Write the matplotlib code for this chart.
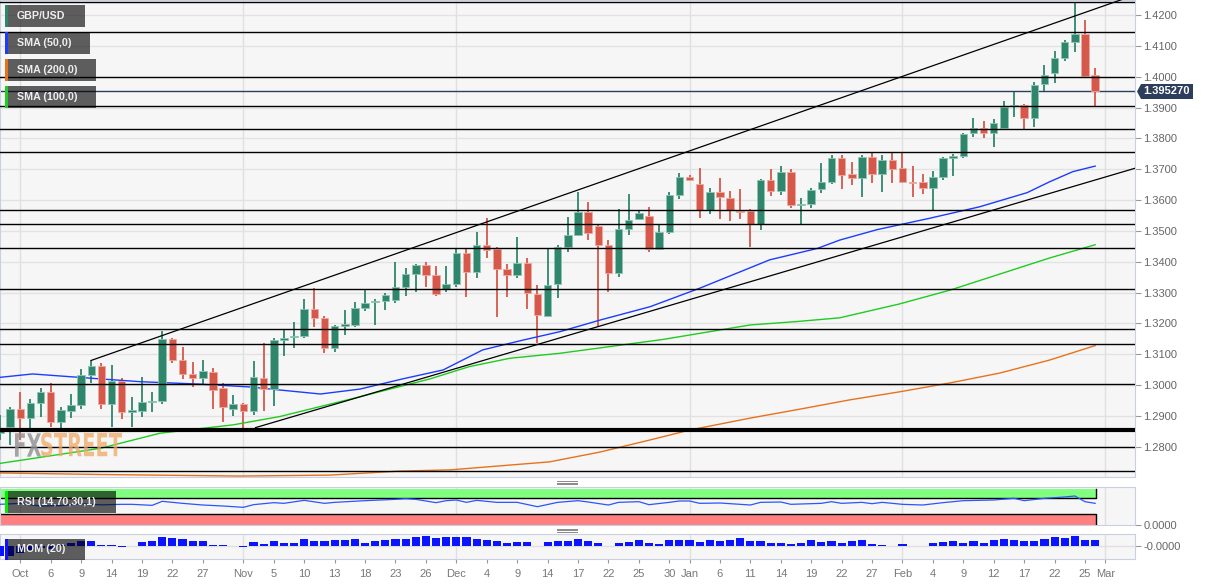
import numpy as np
import pandas as pd
import matplotlib
matplotlib.use("Agg")
from matplotlib import pyplot as plt
from matplotlib.patches import Rectangle, Polygon, PathPatch
from matplotlib.lines import Line2D
from matplotlib.textpath import TextPath
from matplotlib.font_manager import FontProperties
from matplotlib.transforms import Affine2D

plt.rcParams["font.family"] = ["Liberation Sans", "DejaVu Sans"]

W, H = 1212, 585

# GBP/USD daily candles, weekdays 29 Sep 2020 .. 26 Feb 2021
dates = pd.bdate_range("2020-09-29", "2021-02-26")
opens = [1.2845, 1.2865, 1.2921, 1.2892, 1.2943, 1.2978, 1.2879, 1.2917, 1.2935, 1.3033,
         1.3063, 1.2939, 1.3013, 1.2914, 1.2917, 1.2946, 1.2949, 1.3148, 1.3081, 1.3036,
         1.3024, 1.3043, 1.2990, 1.2922, 1.2939, 1.2917, 1.3024, 1.2987, 1.3146, 1.3157,
         1.3159, 1.3247, 1.3217, 1.3121, 1.3192, 1.3195, 1.3251, 1.3268, 1.3274, 1.3275,
         1.3317, 1.3360, 1.3390, 1.3356, 1.3312, 1.3328, 1.3427, 1.3367, 1.3454, 1.3441,
         1.3377, 1.3356, 1.3397, 1.3295, 1.3225, 1.3327, 1.3449, 1.3487, 1.3560, 1.3516,
         1.3453, 1.3362, 1.3506, 1.3538, 1.3548, 1.3440, 1.3497, 1.3616, 1.3674, 1.3652,
         1.3568, 1.3625, 1.3608, 1.3565, 1.3565, 1.3522, 1.3665, 1.3630, 1.3692, 1.3583,
         1.3587, 1.3635, 1.3659, 1.3735, 1.3684, 1.3670, 1.3739, 1.3683, 1.3731, 1.3703,
         1.3659, 1.3658, 1.3638, 1.3676, 1.3737, 1.3743, 1.3816, 1.3833, 1.3816, 1.3835,
         1.3905, 1.3908, 1.3865, 1.3975, 1.4013, 1.4060, 1.4113, 1.4137, 1.4005]
highs = [1.2903, 1.2929, 1.2977, 1.2955, 1.2990, 1.3006, 1.2928, 1.2970, 1.3051, 1.3080,
         1.3071, 1.3065, 1.3022, 1.2960, 1.3025, 1.2979, 1.3176, 1.3152, 1.3122, 1.3076,
         1.3081, 1.3054, 1.3006, 1.2968, 1.2941, 1.3079, 1.3137, 1.3152, 1.3179, 1.3206,
         1.3279, 1.3314, 1.3224, 1.3195, 1.3243, 1.3270, 1.3311, 1.3278, 1.3298, 1.3398,
         1.3379, 1.3393, 1.3399, 1.3386, 1.3386, 1.3443, 1.3440, 1.3497, 1.3541, 1.3448,
         1.3392, 1.3479, 1.3411, 1.3325, 1.3445, 1.3454, 1.3546, 1.3625, 1.3595, 1.3522,
         1.3470, 1.3570, 1.3620, 1.3565, 1.3578, 1.3519, 1.3627, 1.3687, 1.3681, 1.3703,
         1.3640, 1.3670, 1.3630, 1.3635, 1.3571, 1.3667, 1.3700, 1.3710, 1.3700, 1.3606,
         1.3638, 1.3719, 1.3746, 1.3746, 1.3722, 1.3746, 1.3757, 1.3746, 1.3752, 1.3757,
         1.3710, 1.3684, 1.3695, 1.3739, 1.3748, 1.3818, 1.3865, 1.3857, 1.3862, 1.3921,
         1.3951, 1.3911, 1.3984, 1.4037, 1.4084, 1.4119, 1.4240, 1.4184, 1.4029]
lows = [1.2822, 1.2806, 1.2822, 1.2860, 1.2898, 1.2865, 1.2849, 1.2892, 1.2921, 1.3006,
        1.2921, 1.2865, 1.2889, 1.2863, 1.2896, 1.2914, 1.2939, 1.3071, 1.3019, 1.2993,
        1.3000, 1.2921, 1.2881, 1.2900, 1.2860, 1.2903, 1.2917, 1.2932, 1.3094, 1.3119,
        1.3152, 1.3189, 1.3105, 1.3108, 1.3162, 1.3187, 1.3241, 1.3195, 1.3243, 1.3265,
        1.3290, 1.3303, 1.3319, 1.3289, 1.3303, 1.3317, 1.3287, 1.3346, 1.3411, 1.3222,
        1.3287, 1.3346, 1.3246, 1.3135, 1.3221, 1.3281, 1.3432, 1.3484, 1.3470, 1.3187,
        1.3303, 1.3351, 1.3487, 1.3535, 1.3431, 1.3438, 1.3490, 1.3602, 1.3663, 1.3541,
        1.3555, 1.3538, 1.3532, 1.3538, 1.3449, 1.3503, 1.3613, 1.3616, 1.3573, 1.3519,
        1.3575, 1.3622, 1.3651, 1.3635, 1.3649, 1.3609, 1.3656, 1.3627, 1.3656, 1.3655,
        1.3611, 1.3619, 1.3568, 1.3665, 1.3679, 1.3735, 1.3805, 1.3802, 1.3773, 1.3835,
        1.3868, 1.3830, 1.3838, 1.3955, 1.3980, 1.4052, 1.4081, 1.3999, 1.3901]
closes = [1.2861, 1.2921, 1.2892, 1.2943, 1.2979, 1.2879, 1.2919, 1.2935, 1.3033, 1.3063,
          1.2939, 1.3013, 1.2912, 1.2919, 1.2946, 1.2949, 1.3148, 1.3081, 1.3036, 1.3024,
          1.3046, 1.2984, 1.2930, 1.2939, 1.2917, 1.3025, 1.2987, 1.3146, 1.3152, 1.3160,
          1.3247, 1.3217, 1.3121, 1.3193, 1.3197, 1.3251, 1.3267, 1.3273, 1.3292, 1.3317,
          1.3360, 1.3390, 1.3356, 1.3295, 1.3328, 1.3427, 1.3367, 1.3454, 1.3438, 1.3377,
          1.3356, 1.3397, 1.3298, 1.3227, 1.3325, 1.3449, 1.3487, 1.3560, 1.3494, 1.3453,
          1.3362, 1.3505, 1.3535, 1.3559, 1.3440, 1.3495, 1.3616, 1.3674, 1.3665, 1.3568,
          1.3625, 1.3609, 1.3568, 1.3562, 1.3522, 1.3665, 1.3630, 1.3692, 1.3584, 1.3587,
          1.3633, 1.3658, 1.3735, 1.3681, 1.3670, 1.3739, 1.3683, 1.3731, 1.3700, 1.3659,
          1.3656, 1.3638, 1.3676, 1.3737, 1.3743, 1.3814, 1.3833, 1.3816, 1.3851, 1.3903,
          1.3908, 1.3865, 1.3973, 1.4004, 1.4060, 1.4113, 1.4137, 1.4002, 1.3953]
last_price = 1.39527

# moving averages (bar position, value)
sma50_at = [0, 3.2, 9.9, 13.8, 19.7, 24.6, 27.6, 31.6, 35.5, 39.7, 43.7, 47.6, 51.6, 55.2,
            59.2, 64.1, 69, 75.9, 80.6, 82.8, 86.5, 91.7, 96.6, 101.3, 103.5, 105.8, 108]
sma50 = [1.3025, 1.3036, 1.3020, 1.3011, 1.3003, 1.2994, 1.2984, 1.2971, 1.2987, 1.3020,
         1.3049, 1.3114, 1.3146, 1.3173, 1.3211, 1.3254, 1.3314, 1.3406, 1.3443, 1.3470,
         1.3504, 1.3541, 1.3578, 1.3624, 1.3659, 1.3692, 1.3710]
sma100_at = [0, 9.9, 15.8, 23, 27.6, 35, 42.4, 46.3, 50.3, 55.2, 65.4, 74, 78.6, 82.8,
             88.7, 93.7, 98.6, 103.5, 108]
sma100 = [1.2746, 1.2795, 1.2844, 1.2871, 1.2898, 1.2958, 1.3020, 1.3060, 1.3087, 1.3103,
          1.3148, 1.3195, 1.3206, 1.3218, 1.3263, 1.3308, 1.3360, 1.3412, 1.3455]
sma200_at = [0, 9.9, 23.7, 32.5, 39.4, 44.4, 49.3, 54.2, 59.2, 64.1, 68, 74, 78.9, 83.8,
             88.7, 93.7, 98.6, 103.5, 108]
sma200 = [1.2715, 1.2710, 1.2705, 1.2708, 1.2721, 1.2725, 1.2738, 1.2751, 1.2783, 1.2822,
          1.2854, 1.2893, 1.2922, 1.2952, 1.2978, 1.3007, 1.3039, 1.3081, 1.3128]

# drawn levels and channel
levels = [1.4241, 1.4144, 1.3998, 1.3904, 1.3830, 1.3755, 1.3567, 1.3521, 1.3443,
          1.3312, 1.3181, 1.3132, 1.3003, 1.2798, 1.2721]
key_level = 1.2853
upper_line = ([9, 111.93], [1.3080, 1.4265])
lower_line = ([25.2, 111.93], [1.2862, 1.3703])

# RSI(14) samples
rsi_at = [0, 2, 4, 6, 8, 10, 12, 13, 15, 16, 18, 20, 22, 24, 25, 27, 28, 30, 32, 33,
          36, 39, 40, 41, 43, 44, 45, 46, 47, 49, 51, 53, 55, 57, 58, 60, 61, 63, 64, 66,
          67, 68, 69, 71, 74, 75, 77, 78, 81, 82, 83, 85, 86, 87, 89, 91, 93, 95, 98, 100,
          101, 103, 105, 106, 107, 108]
rsi = [54.4, 57, 50, 51, 56, 53, 54.4, 54.4, 51.7, 62.3, 57, 52.6, 50, 46.5, 53.5, 58.8,
       57, 64.9, 57, 59.6, 64, 67.5, 69.3, 67.5, 58.8, 64, 65.8, 59.6, 64.9, 59.6, 59.6,
       48.2, 59.6, 64, 60.5, 52.6, 59.6, 61.4, 53.5, 59.6, 63.2, 63.2, 57, 57.9, 52.6,
       59.6, 60.5, 54.4, 57, 61.4, 57, 59.6, 56.1, 59.6, 54.4, 52.6, 58.8, 64, 65.8, 70.2,
       64, 70.2, 73.7, 76.3, 61.4, 57]

# momentum(20), one per candle
mom = [-0.030, -0.030, -0.021, -0.012, -0.006, -0.009, 0.003, 0.008, 0.015, 0.015,
       0.003, 0.002, -0.003, -0.0015, 0.010, 0.015, 0.026, 0.023, 0.019, 0.013,
       0.013, 0.003, 0.002, -0.001, -0.003, 0.010, 0.006, 0.015, 0.008, 0.007,
       0.021, 0.015, 0.015, 0.018, 0.017, 0.021, 0.008, 0.013, 0.018, 0.020,
       0.020, 0.026, 0.028, 0.023, 0.027, 0.026, 0.025, 0.020, 0.018, 0.015,
       0.008, 0.011, 0.011, -0.0015, 0.010, 0.013, 0.014, 0.019, 0.013, 0.009,
       -0.001, 0.009, 0.012, 0.017, 0.007, 0.005, 0.017, 0.016, 0.016, 0.012,
       0.018, 0.015, 0.018, 0.023, 0.014, 0.015, 0.009, 0.009, 0.006, 0.009,
       0.018, 0.010, 0.013, 0.008, 0.015, 0.016, 0.004, 0.003, -0.001, 0.005,
       -0.001, -0.001, 0.007, 0.012, 0.014, 0.009, 0.013, 0.009, 0.017, 0.020,
       0.018, 0.013, 0.015, 0.021, 0.026, 0.024, 0.030, 0.018, 0.017]

tick_dates = ["2020-10-01", "2020-10-06", "2020-10-09", "2020-10-14", "2020-10-19",
              "2020-10-22", "2020-10-27", "2020-11-02", "2020-11-05", "2020-11-10",
              "2020-11-13", "2020-11-18", "2020-11-23", "2020-11-26", "2020-12-01",
              "2020-12-04", "2020-12-09", "2020-12-14", "2020-12-17", "2020-12-22",
              "2020-12-25", "2020-12-30", "2021-01-01", "2021-01-06", "2021-01-11",
              "2021-01-14", "2021-01-19", "2021-01-22", "2021-01-27", "2021-02-01",
              "2021-02-04", "2021-02-09", "2021-02-12", "2021-02-17", "2021-02-22",
              "2021-02-25", "2021-03-01"]
tick_labels = ["Oct", "6", "9", "14", "19", "22", "27", "Nov", "5", "10", "13", "18", "23",
               "26", "Dec", "4", "9", "14", "17", "22", "25", "30", "Jan", "6", "11", "14",
               "19", "22", "27", "Feb", "4", "9", "12", "17", "22", "25", "Mar"]

GREEN, RED = "#2f866c", "#d5584a"
x_lo, x_hi = 0, 111.93

pos = np.arange(len(dates))
tick_pos = [dates.searchsorted(pd.Timestamp(d)) for d in tick_dates]
month_pos = [p for p, t in zip(tick_pos, tick_labels) if not t.isdigit()]


def frac(x0, y0, x1, y1):
    return [x0 / W, 1 - y1 / H, (x1 - x0) / W, (y1 - y0) / H]


fig = plt.figure(figsize=(W / 100, H / 100), dpi=100)
fig.patch.set_facecolor("white")
ax = fig.add_axes(frac(0, 0, 1135, 477))
ax_rsi = fig.add_axes(frac(0, 487, 1135, 525))
ax_mom = fig.add_axes(frac(0, 534, 1135, 559))

for a in (ax, ax_rsi, ax_mom):
    a.set_facecolor("#f6f6f6")
    a.set_xlim(x_lo, x_hi)
    for s in a.spines.values():
        s.set_color("#c9d0e2")
    for m in month_pos:
        a.axvline(m, color="#e0e0e0", lw=1, zorder=0)
    a.yaxis.tick_right()
    a.tick_params(axis="y", length=4, color="#999999", labelcolor="#666666",
                  labelsize=8, pad=2)

# main price panel
ax.set_ylim(1.27019, 1.42486)
ax.set_yticks(np.arange(1.28, 1.42001, 0.01))
ax.yaxis.set_major_formatter(plt.FuncFormatter(lambda v, p: f"{v:.4f}"))
ax.grid(axis="y", color="#e2e2e2", lw=1, zorder=0)
ax.set_xticks([])

o, hi_, lo_, c = map(np.array, (opens, highs, lows, closes))
up = c >= o
col = np.where(up, GREEN, RED)
edge = np.where(up, "#8fc6b3", "#eeaa9f")
ax.vlines(pos, lo_, hi_, colors=col, lw=1.3, zorder=3)
ax.bar(pos, np.maximum(np.abs(c - o), 0.00015), bottom=np.minimum(o, c), width=0.74,
       color=col, edgecolor=edge, linewidth=0.6, zorder=4)

ax.plot(sma200_at, sma200, color="#e8721c", lw=1, zorder=3)
ax.plot(sma100_at, sma100, color="#1fcc1f", lw=1, zorder=3)
ax.plot(sma50_at, sma50, color="#1c3cff", lw=1, zorder=3)

ax.axhline(last_price, color="#2c3e5c", lw=1, zorder=2)
for lv in levels:
    ax.axhline(lv, color="black", lw=1.0, zorder=5)
ax.axhline(key_level, color="black", lw=3, zorder=5)
ax.plot(*upper_line, color="black", lw=0.9, zorder=5)
ax.plot(*lower_line, color="black", lw=0.9, zorder=5)

# RSI panel
ax_rsi.set_ylim(0, 100)
ax_rsi.set_xticks([])
band_end = pos[-1] + 0.06
ax_rsi.add_patch(Rectangle((x_lo, 70), band_end - x_lo, 25, fc="#80ff80", lw=0, zorder=1))
ax_rsi.add_patch(Rectangle((x_lo, 0), band_end - x_lo, 30, fc="#ff8080", lw=0, zorder=1))
ax_rsi.plot([x_lo, band_end, band_end], [70, 70, 95], color="black", lw=1, zorder=2)
ax_rsi.plot([x_lo, band_end, band_end], [30, 30, 0], color="black", lw=1, zorder=2)
ax_rsi.plot(rsi_at, rsi, color="#2a55ff", lw=0.9, zorder=3)
ax_rsi.set_yticks([0])
ax_rsi.set_yticklabels(["0.0000"])

# momentum panel
mom = np.array(mom)
ax_mom.set_ylim(-0.0399, 0.0351)
ax_mom.axhline(0, color="#e0e0e0", lw=1, zorder=1)
ax_mom.bar(pos, mom, width=0.8, zorder=3,
           color=np.where(np.abs(mom) <= 0.0015, "#a3a7f3", "#0a14ff"))
ax_mom.set_yticks([0])
ax_mom.set_yticklabels(["-0.0000"])
ax_mom.set_xticks(tick_pos)
ax_mom.set_xticklabels(tick_labels)
ax_mom.tick_params(axis="x", length=3, color="#999999", labelcolor="#777777",
                   labelsize=8, pad=4)


# indicator tags
def tag(x0, y0, x1, y1, text, strip):
    fig.add_artist(Rectangle((x0 / W, 1 - y1 / H), (x1 - x0) / W, (y1 - y0) / H,
                             transform=fig.transFigure, fc="black", alpha=0.62, lw=0,
                             zorder=20))
    fig.add_artist(Rectangle((x0 / W, 1 - y1 / H), 2.7 / W, (y1 - y0) / H,
                             transform=fig.transFigure, fc=strip, lw=0, zorder=21))
    fig.text(17 / W, 1 - (y0 + y1) / 2 / H, text, color="#eeeeee", fontsize=7.7,
             fontweight="bold", va="center", ha="left", zorder=22)


tag(5, 5, 85, 27, "GBP/USD", "#2f866c")
tag(5, 32, 90, 54, "SMA (50,0)", "#1c3cff")
tag(5, 59, 96, 81, "SMA (200,0)", "#e8721c")
tag(5, 86, 96, 108, "SMA (100,0)", "#1fcc1f")
tag(5, 491, 116, 513, "RSI (14,70,30,1)", "#00ee00")
tag(5, 539, 85, 560, "MOM (20)", "#1010ff")

# last price marker
pts = [(1137, 91.5), (1141, 84), (1193, 84), (1193, 99), (1141, 99)]
fig.add_artist(Polygon([(x / W, 1 - y / H) for x, y in pts], closed=True,
                       transform=fig.transFigure, fc="#2c3e5c", lw=0, zorder=20))
fig.text(1166 / W, 1 - 91.5 / H, f"{last_price:.6f}", color="white", fontsize=8,
         fontweight="bold", ha="center", va="center", zorder=21)

# pane resize handles
for yy in (481, 482.7, 484.4, 528.6, 530.3, 532):
    fig.add_artist(Line2D([557 / W, 577 / W], [1 - yy / H] * 2, color="#8a8a8a", lw=0.7,
                          transform=fig.transFigure, zorder=20))

# watermark
fp = FontProperties(family="DejaVu Sans", weight="bold")
p_fx = TextPath((0, 0), "FX", size=100, prop=fp)
p_st = TextPath((0, 0), "STREET", size=100, prop=fp)
b_fx, b_st = p_fx.get_extents(), p_st.get_extents()
sx = (122 - 15) / (b_fx.width + b_st.width)
sy = (456.7 - 433.3) / b_fx.height
base_y = H - 456.7
tr_fx = Affine2D().translate(-b_fx.x0, -b_fx.y0).scale(sx, sy).translate(15, base_y)
tr_st = Affine2D().translate(-b_st.x0, -b_st.y0).scale(sx, sy).translate(
    15 + b_fx.width * sx, base_y)
fig.add_artist(PathPatch(p_fx, transform=tr_fx, fc="#8f8f8f", lw=0, alpha=0.8, zorder=15))
fig.add_artist(PathPatch(p_st, transform=tr_st, fc="#eea865", lw=0, alpha=0.75, zorder=15))

fig.savefig("out.png", dpi=100)
